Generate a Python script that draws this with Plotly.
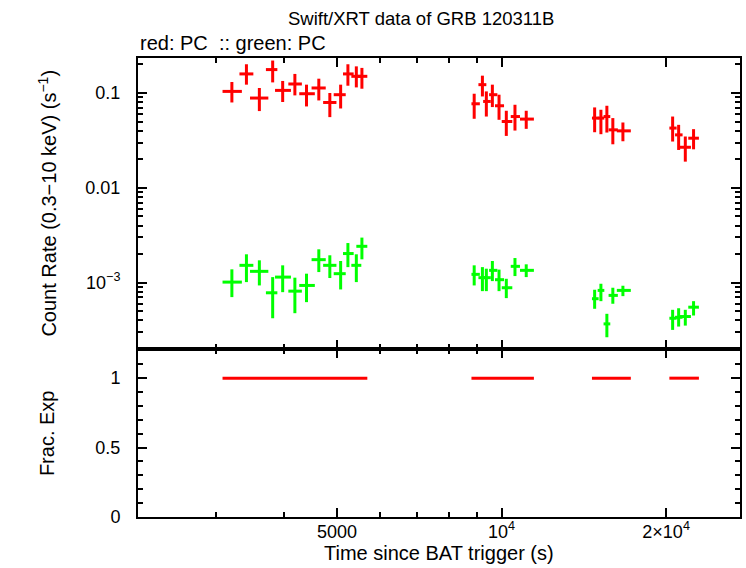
import numpy as np
import plotly.graph_objects as go
from plotly.subplots import make_subplots

# Time bins (s)
t = [3212, 3415, 3606, 3814, 3978, 4188, 4398, 4632, 4852, 5078, 5236, 5425, 5554,
     8912, 9226, 9380, 9621, 9895, 10203, 10582, 11096,
     14801, 15197, 15583, 15979, 16672,
     20556, 21083, 21684, 22450]
t_lo = [3088, 3316, 3467, 3707, 3852, 4074, 4266, 4493, 4717, 4932, 5129, 5312, 5425,
        8810, 9072, 9254, 9489, 9728, 10008, 10395, 10807,
        14635, 14990, 15368, 15696, 16251,
        20276, 20766, 21118, 21955]
t_hi = [3350, 3516, 3745, 3890, 4119, 4313, 4555, 4769, 4989, 5188, 5364, 5540, 5682,
        9127, 9380, 9557, 9826, 10106, 10464, 10807, 11460,
        15052, 15417, 15808, 16321, 17238,
        20905, 21436, 22203, 22962]

# red: PC
red_rate = [0.104, 0.159, 0.0885, 0.1766, 0.1066, 0.1245, 0.0983, 0.113, 0.0795, 0.096, 0.159, 0.15, 0.15,
            0.077, 0.1225, 0.0815, 0.096, 0.0734, 0.0501, 0.0565, 0.0531,
            0.0544, 0.0544, 0.0565, 0.0409, 0.0399,
            0.0427, 0.0362, 0.0268, 0.0334]
red_hi = [0.1306, 0.201, 0.113, 0.22, 0.134, 0.159, 0.1225, 0.1416, 0.1, 0.1225, 0.201, 0.191, 0.184,
          0.0983, 0.1524, 0.104, 0.1225, 0.096, 0.065, 0.0752, 0.065,
          0.0705, 0.0666, 0.0734, 0.0544, 0.0489,
          0.0565, 0.0462, 0.0348, 0.0416]
red_lo = [0.0795, 0.1225, 0.0645, 0.1294, 0.0804, 0.0944, 0.0722, 0.0835, 0.0557, 0.0687, 0.1194, 0.1146, 0.111,
          0.0535, 0.092, 0.0565, 0.0711, 0.0522, 0.0353, 0.0402, 0.0419,
          0.0386, 0.0368, 0.0383, 0.0288, 0.031,
          0.0308, 0.0251, 0.0189, 0.0255]

# green: PC
green_rate = [1.015e-3, 1.525e-3, 1.318e-3, 7.83e-4, 1.146e-3, 8.15e-4, 9.36e-4, 1.75e-3, 1.525e-3, 1.245e-3, 2.03e-3, 1.525e-3, 2.42e-3,
              1.225e-3, 1.13e-3, 1.13e-3, 1.35e-3, 1.076e-3, 8.85e-4, 1.488e-3, 1.35e-3,
              6.78e-4, 8.3e-4, 3.68e-4, 7.35e-4, 8.3e-4,
              4.22e-4, 4.32e-4, 4.4e-4, 5.52e-4]
green_hi = [1.384e-3, 1.993e-3, 1.722e-3, 1.146e-3, 1.525e-3, 1.13e-3, 1.245e-3, 2.25e-3, 1.946e-3, 1.694e-3, 2.62e-3, 1.993e-3, 2.99e-3,
            1.525e-3, 1.46e-3, 1.406e-3, 1.694e-3, 1.374e-3, 1.1e-3, 1.82e-3, 1.563e-3,
            8.43e-4, 9.75e-4, 4.7e-4, 8.85e-4, 9.29e-4,
            5.18e-4, 5.38e-4, 5.18e-4, 6.39e-4]
green_lo = [7.05e-4, 1.015e-3, 9.36e-4, 4.22e-4, 7.95e-4, 4.77e-4, 6.24e-4, 1.295e-3, 1.12e-3, 8.49e-4, 1.46e-3, 1.015e-3, 1.764e-3,
            9.36e-4, 8.15e-4, 8.15e-4, 1.04e-3, 8.15e-4, 6.88e-4, 1.175e-3, 1.146e-3,
            5.31e-4, 6.39e-4, 2.66e-4, 6.0e-4, 7.22e-4,
            3.18e-4, 3.45e-4, 3.53e-4, 4.51e-4]

# fractional exposure per bin
frac_exp = [1.0] * len(t)

x_ticks = [5000, 10000, 20000]
x_ticktext = ["5000", "10<sup>4</sup>", "2×10<sup>4</sup>"]
x_minor = [3000, 4000, 6000, 7000, 8000, 9000]
y_ticks = [0.1, 0.01, 0.001]
y_ticktext = ["0.1", "0.01", "10<sup>−3</sup>"]

T = np.array(t, float); TL = np.array(t_lo, float); TH = np.array(t_hi, float)
ex_p = TH - T
ex_m = T - TL

def eb(rate, lo, hi):
    r = np.array(rate); return np.array(hi) - r, r - np.array(lo)

FONT = "Liberation Sans, Arial, Helvetica, sans-serif"
RED = "#ff0000"
GREEN = "#00ff00"
LW = 3
TICKF = 18
TITLEF = 20

fig = make_subplots(rows=2, cols=1, shared_xaxes=False, vertical_spacing=0,
                    row_heights=[0.634, 0.366])

for rate, lo, hi, col in [(red_rate, red_lo, red_hi, RED), (green_rate, green_lo, green_hi, GREEN)]:
    ep, em = eb(rate, lo, hi)
    fig.add_trace(go.Scatter(
        x=T, y=rate, mode="markers", marker=dict(size=0.1, color=col, opacity=0),
        error_x=dict(type="data", symmetric=False, array=ex_p, arrayminus=ex_m,
                     color=col, thickness=LW, width=0),
        error_y=dict(type="data", symmetric=False, array=ep, arrayminus=em,
                     color=col, thickness=LW, width=0),
        showlegend=False, hoverinfo="skip"), row=1, col=1)

# fractional exposure: merge overlapping bins into continuous segments
segs = []
for a, b, f in sorted(zip(t_lo, t_hi, frac_exp)):
    if segs and a <= segs[-1][1] * 1.01 and f == segs[-1][2]:
        segs[-1][1] = max(segs[-1][1], b)
    else:
        segs.append([a, b, f])
fx, fy = [], []
for a, b, f in segs:
    fx += [a, b, None]
    fy += [f, f, None]
fig.add_trace(go.Scatter(x=fx, y=fy, mode="lines", line=dict(color=RED, width=LW),
                         showlegend=False, hoverinfo="skip", connectgaps=False), row=2, col=1)

xr = [np.log10(2163), np.log10(27300)]
common_x = dict(type="log", range=xr, showline=True, linecolor="black", linewidth=2,
                mirror="ticks", ticks="inside", ticklen=9, tickwidth=2, tickcolor="black",
                tickmode="array", tickvals=x_ticks, ticktext=x_ticktext,
                showgrid=False, zeroline=False,
                minor=dict(tickmode="array", tickvals=x_minor, ticks="inside", ticklen=5,
                           tickwidth=2, tickcolor="black", showgrid=False),
                tickfont=dict(family=FONT, size=TICKF, color="black"))

fig.update_xaxes(**common_x, showticklabels=False, row=1, col=1)
fig.update_xaxes(**common_x, showticklabels=True, ticklabelstandoff=-3, row=2, col=1)

y_minor = []
for d in [1e-4, 1e-3, 1e-2, 1e-1]:
    for k in range(2, 10):
        y_minor.append(k * d)

fig.update_yaxes(type="log", range=[np.log10(2.0e-4), np.log10(0.234)],
                 showline=True, linecolor="black", linewidth=2, mirror="ticks",
                 ticks="inside", ticklen=9, tickwidth=2, tickcolor="black",
                 tickmode="array", tickvals=y_ticks, ticktext=y_ticktext,
                 showgrid=False, zeroline=False, ticklabelstandoff=12,
                 minor=dict(tickmode="array", tickvals=y_minor, ticks="inside", ticklen=5,
                            tickwidth=2, tickcolor="black", showgrid=False),
                 tickfont=dict(family=FONT, size=TICKF, color="black"), row=1, col=1)

fig.update_yaxes(range=[0, 1.21], showline=True, linecolor="black", linewidth=2, mirror="ticks",
                 ticks="inside", ticklen=9, tickwidth=2, tickcolor="black",
                 tickmode="array", tickvals=[0, 0.5, 1], ticktext=["0", "0.5", "1"],
                 showgrid=False, zeroline=False, ticklabelstandoff=12,
                 minor=dict(tickmode="array", tickvals=[0.1, 0.2, 0.3, 0.4, 0.6, 0.7, 0.8, 0.9, 1.1, 1.2],
                            ticks="inside", ticklen=5, tickwidth=2, tickcolor="black", showgrid=False),
                 tickfont=dict(family=FONT, size=TICKF, color="black"), row=2, col=1)

annos = [
    dict(text="Swift/XRT data of GRB 120311B", x=0.470, y=1.085, xref="paper", yref="paper",
         xanchor="center", yanchor="middle", showarrow=False,
         font=dict(family=FONT, size=18.5, color="black")),
    dict(text="red: PC  :: green: PC", x=0.0, y=1.033, xref="paper", yref="paper",
         xanchor="left", yanchor="middle", showarrow=False,
         font=dict(family=FONT, size=TITLEF, color="black")),
    dict(text="Time since BAT trigger (s)", x=0.5, y=-0.078, xref="paper", yref="paper",
         xanchor="center", yanchor="middle", showarrow=False,
         font=dict(family=FONT, size=TITLEF, color="black")),
    dict(text="Count Rate (0.3−10 keV) (s<sup>−1</sup>)", x=-0.151, y=0.683, xref="paper", yref="paper",
         xanchor="center", yanchor="middle", showarrow=False, textangle=-90,
         font=dict(family=FONT, size=TITLEF, color="black")),
    dict(text="Frac. Exp", x=-0.151, y=0.183, xref="paper", yref="paper",
         xanchor="center", yanchor="middle", showarrow=False, textangle=-90,
         font=dict(family=FONT, size=TITLEF, color="black")),
]

fig.update_layout(width=746, height=568, margin=dict(l=138, r=4, t=58, b=51),
                  paper_bgcolor="white", plot_bgcolor="white",
                  annotations=annos, showlegend=False)

fig.write_html("out.html")
